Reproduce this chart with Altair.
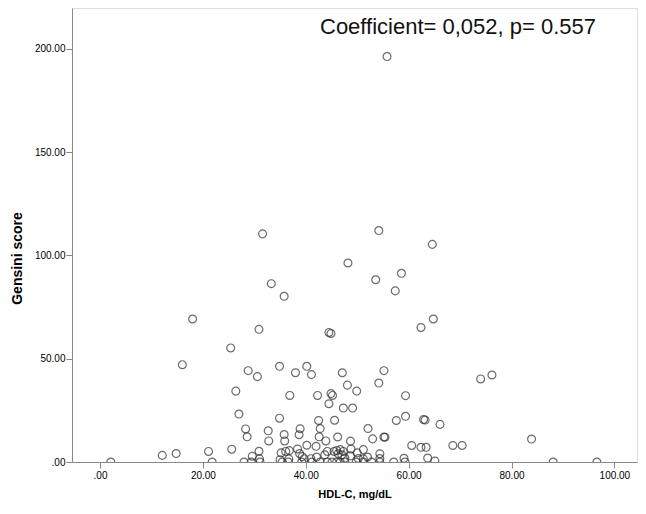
import altair as alt
import pandas as pd

# HDL-C (mg/dL) values
hdl = [
    55.8, 31.6, 54.2, 64.6, 48.2, 58.6, 33.3, 53.6, 57.4, 35.8,
    18.0, 64.8, 62.4, 30.9, 44.5, 44.9, 25.4, 16.0, 28.8, 30.6,
    34.9, 38.0, 40.2, 41.1, 47.1, 55.2, 48.1, 49.9, 54.2, 74.0,
    76.2, 26.4, 36.9, 42.3, 44.9, 45.2, 59.4,
    44.5, 47.3, 49.1, 27.0, 34.9, 42.5, 45.6, 57.6, 59.4, 62.9,
    63.2, 66.1, 28.3, 28.6, 32.7, 32.8, 35.8, 35.9, 38.9, 38.7,
    42.8, 42.6, 43.9, 46.2, 48.7, 52.1, 53.0, 55.2, 55.4, 83.9,
    40.2, 42.0, 60.6, 62.4, 63.4, 68.6, 70.4, 25.6, 21.1, 14.8, 12.1,
    30.9, 29.6, 31.0, 35.2, 36.1, 36.8, 38.4, 38.8, 39.3, 39.7,
    41.0, 42.1, 43.7, 44.2, 45.5, 46.0, 46.3, 46.7, 47.3, 47.0,
    47.6, 48.8, 48.7, 50.0, 50.2, 51.2, 51.2, 52.0, 54.4, 54.4,
    59.1, 63.7, 65.1, 36.7, 35.0,
    2.1, 21.8, 28.0, 29.4, 31.1, 35.4, 36.6, 39.2, 41.2, 42.8,
    44.2, 45.1, 46.0, 46.7, 47.6, 49.8, 51.2, 52.8, 54.4, 57.1,
    59.3, 88.1, 96.6,
]

# Gensini score values
gensini = [
    196.2, 110.4, 112.0, 105.3, 96.3, 91.3, 86.3, 88.2, 82.8, 80.2,
    69.2, 69.2, 65.1, 64.2, 62.7, 62.2, 55.2, 47.1, 44.2, 41.3,
    46.3, 43.2, 46.3, 42.3, 43.2, 44.2, 37.2, 34.3, 38.2, 40.2,
    42.1, 34.3, 32.2, 32.2, 33.1, 32.2, 32.1,
    28.2, 26.1, 26.1, 23.2, 21.2, 20.1, 20.2, 20.1, 22.1, 20.6,
    20.3, 18.2, 16.0, 12.2, 15.1, 10.2, 13.3, 10.2, 16.1, 13.2,
    16.2, 12.2, 10.2, 12.1, 10.1, 16.2, 11.2, 12.1, 12.0, 11.1,
    8.1, 7.6, 8.0, 7.1, 7.1, 8.0, 8.0, 6.2, 5.1, 4.1, 3.2,
    5.2, 2.8, 1.5, 4.4, 5.1, 5.5, 6.3, 4.1, 2.6, 1.6,
    1.6, 2.4, 3.5, 5.1, 5.1, 5.6, 4.0, 6.0, 5.1, 3.5,
    1.9, 6.3, 3.0, 4.4, 1.7, 6.0, 1.5, 2.4, 4.0, 1.7,
    1.8, 1.9, 0.5, 1.5, 1.1,
    0, 0, 0, 0, 0, 0, 0, 0, 0, 0,
    0, 0, 0, 0, 0, 0, 0, 0, 0, 0,
    0, 0, 0,
]

x_ticks = [0, 20, 40, 60, 80, 100]
y_ticks = [0, 50, 100, 150, 200]
annotation = "Coefficient= 0,052, p= 0.557"

df = pd.DataFrame({"hdl": hdl, "gensini": gensini})

label_expr = "datum.value == 0 ? '.00' : format(datum.value, '.2f')"

points = alt.Chart(df).mark_point(
    shape="circle", filled=False, size=62, stroke="#2e2e2e", strokeWidth=1.2, clip=True
).encode(
    x=alt.X(
        "hdl:Q",
        scale=alt.Scale(domain=[-5.45, 104.4], nice=False, zero=False),
        axis=alt.Axis(
            title="HDL-C, mg/dL", values=x_ticks, labelExpr=label_expr,
            grid=False, tickSize=6, labelPadding=2, titlePadding=8,
        ),
    ),
    y=alt.Y(
        "gensini:Q",
        scale=alt.Scale(domain=[0, 219.7], nice=False),
        axis=alt.Axis(
            title="Gensini score", values=y_ticks, labelExpr=label_expr,
            grid=False, tickSize=6, labelPadding=1, titlePadding=10,
            titleFontSize=14, titleY=250,
        ),
    ),
)

text = alt.Chart(pd.DataFrame({"t": [annotation]})).mark_text(
    align="left", baseline="alphabetic", fontSize=22, font="Liberation Sans", color="#111111"
).encode(text="t:N", x=alt.value(248), y=alt.value(26))

chart = (points + text).properties(
    width=565, height=454,
    autosize=alt.AutoSizeParams(type="none"),
    padding={"left": 64, "top": 0, "right": 1, "bottom": 44},
).configure_view(
    fill="#f0f0f0", stroke="#555555", strokeWidth=1
).configure_axis(
    domainColor="#333333", tickColor="#333333", labelColor="#333333",
    labelFont="Liberation Sans", labelFontSize=11,
    titleFont="Liberation Sans", titleFontSize=15, titleFontWeight="bold", titleColor="#111111",
).configure(background="white")

chart.save("out.html", embed_options={"renderer": "svg", "actions": False})
